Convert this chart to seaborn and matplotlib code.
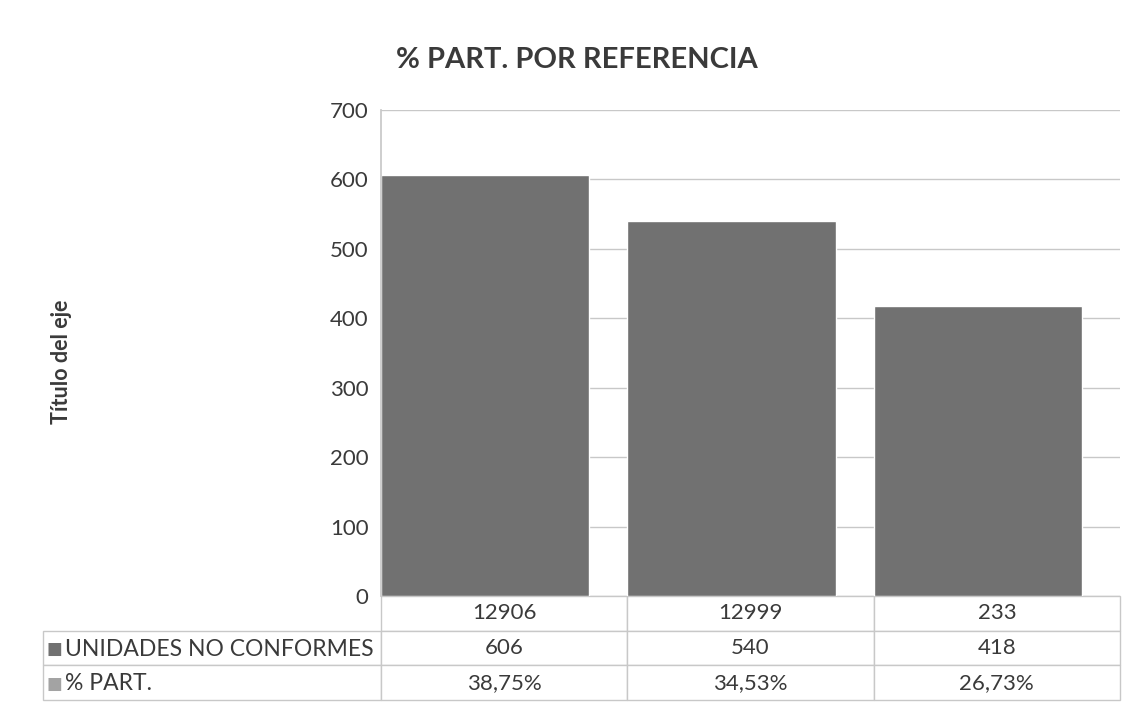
import matplotlib
matplotlib.use('Agg')
import matplotlib.pyplot as plt
import seaborn as sns

# data
categories = ['12906', '12999', '233']
unidades = [606, 540, 418]
part_pct = [38.75, 34.53, 26.73]
series_names = ['UNIDADES NO CONFORMES', '% PART.']
yticks = [0, 100, 200, 300, 400, 500, 600, 700]

sns.set_theme(style='white')
plt.rcParams['font.family'] = ['Lato', 'DejaVu Sans']

bar_color = '#717171'
part_color = '#a3a3a3'
line_color = '#c8c8c8'
text_color = '#3a3a3a'

fig = plt.figure(figsize=(11.39, 7.22), dpi=100)
W, H = 1139, 722
ax = fig.add_axes([381 / W, 1 - 596 / H, (1120 - 381) / W, (596 - 110) / H])

bw = 208 / 246
sns.barplot(x=categories, y=unidades, color=bar_color, saturation=1,
            width=bw, ax=ax, zorder=2)

# bars sit at the left edge of each category slot, like the Excel clustered chart
ax.set_xlim(-bw / 2, len(categories) - bw / 2)
ax.set_ylim(0, 700)
ax.set_yticks(yticks)
ax.set_yticklabels([str(v) for v in yticks], fontsize=16, color=text_color)
ax.tick_params(axis='y', length=0, pad=9)
ax.set_xticks([])
ax.set_xlabel('')
ax.set_ylabel('')
ax.yaxis.grid(True, color=line_color, linewidth=1)
ax.set_axisbelow(True)
for side in ['top', 'right', 'bottom']:
    ax.spines[side].set_visible(False)
ax.spines['left'].set_color(line_color)

# data table under the plot
ax_w = 1120 - 381
ax_h = 596 - 110
lab_w = 381 - 43
tbl_h = 700 - 596
cell_text = [[''] + categories,
             [''] + [str(v) for v in unidades],
             [''] + [f'{v:.2f}'.replace('.', ',') + '%' for v in part_pct]]
tbl = ax.table(cellText=cell_text, cellLoc='center',
               colWidths=[lab_w / ax_w] + [1 / 3] * 3,
               bbox=[-lab_w / ax_w, -tbl_h / ax_h, 1 + lab_w / ax_w, tbl_h / ax_h])
tbl.auto_set_font_size(False)
for (r, c), cell in tbl.get_celld().items():
    cell.set_edgecolor(line_color)
    cell.set_linewidth(1)
    cell.get_text().set_fontsize(16)
    cell.get_text().set_color(text_color)
    if r == 0 and c == 0:
        cell.visible_edges = ''

# row labels with legend keys
row_y = [-(649 - 596) / ax_h, -(684 - 596) / ax_h]
for name, col, yy in zip(series_names, [bar_color, part_color], row_y):
    ax.text(-(381 - 46) / ax_w, yy, '■', transform=ax.transAxes, fontsize=12,
            color=col, va='center', ha='left', family=['DejaVu Sans'])
    ax.text(-(381 - 65) / ax_w, yy, name, transform=ax.transAxes, fontsize=16.5,
            color=text_color, va='center', ha='left')

fig.text(577 / W, 1 - 60 / H, '% PART. POR REFERENCIA', ha='center', va='center',
         fontsize=21, fontweight='bold', color=text_color)
fig.text(62 / W, 1 - 362 / H, 'Título del eje', ha='center', va='center',
         rotation=90, fontsize=15.5, fontweight='bold', color=text_color)

fig.savefig('out.png', dpi=100, facecolor='white')
